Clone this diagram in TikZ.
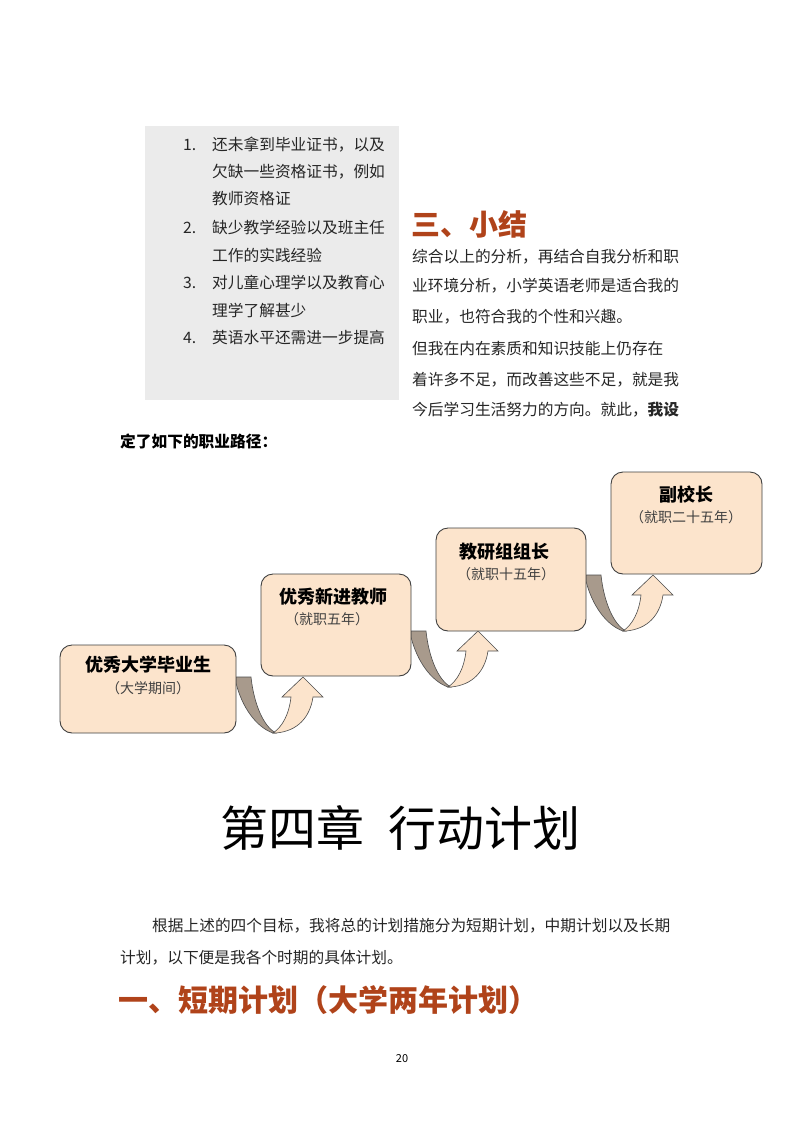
\documentclass[tikz,border=0pt]{standalone}
\usepackage{fontspec}
\setmainfont{Noto Sans CJK SC}
\definecolor{hd}{HTML}{B0431A}
\definecolor{boxf}{HTML}{FCE4CC}
\definecolor{band}{HTML}{A89A8C}
\definecolor{arr}{HTML}{FCE4CC}
\begin{document}
\begin{tikzpicture}[x=1pt,y=-1pt,
  txt/.style={anchor=west,inner sep=0pt,font=\fontsize{15.7}{17}\selectfont,text=black!85},
  stepbox/.style={draw=black!75,line width=0.9pt,fill=boxf,rounded corners=12pt,inner sep=0pt},
  ttl/.style={inner sep=0pt,font=\fontsize{18}{20}\selectfont\bfseries},
  sub/.style={inner sep=0pt,font=\fontsize{14}{16}\selectfont,text=black!75}]
\useasboundingbox (0,0) rectangle (800,1132);
\fill[white] (0,0) rectangle (800,1132);
% grey list box
\fill[black!8] (145,126) rectangle (399,400);
\foreach \n/\y in {1./145,2./228,3./283,4./338} \node[txt] at (183,\y) {\n};
\foreach \t/\y in {还未拿到毕业证书，以及/145,欠缺一些资格证书，例如/172,教师资格证/199,缺少教学经验以及班主任/228,工作的实践经验/255,对儿童心理学以及教育心/283,理学了解甚少/310,英语水平还需进一步提高/338}
  \node[txt] at (212,\y) {\t};
\node[anchor=west,inner sep=0pt,font=\fontsize{29}{32}\selectfont\bfseries,text=hd] (h3) at (411,224) {三、小结};
\foreach \t/\y in {综合以上的分析，再结合自我分析和职/257,业环境分析，小学英语老师是适合我的/286,职业，也符合我的个性和兴趣。/317,但我在内在素质和知识技能上仍存在/349,着许多不足，而改善这些不足，就是我/380}
  \node[txt] at (412,\y) {\t};
\node[txt] at (412,410) {今后学习生活努力的方向。就此，\textbf{我设}};
\node[txt,font=\fontsize{15.7}{17}\selectfont\bfseries,text=black] at (120,441) {定了如下的职业路径：};
% arrows
\newcommand\curarrow[2]{%
 \begin{scope}[shift={(#1,#2)}]
  \filldraw[fill=band,draw=black!70,line width=0.6pt] (0,0) -- (15,0) .. controls (18,28) and (28,50) .. (40,56) -- (37,56) .. controls (20,50) and (6,30) .. (0,6) -- cycle;
  \filldraw[fill=arr,draw=black!70,line width=0.6pt] (37,56) .. controls (46,50) and (53,38) .. (55,20) -- (46,20) -- (67,0) -- (87,20) -- (77,20) .. controls (74,40) and (62,54) .. (40,56) -- cycle;
 \end{scope}}
\curarrow{236}{677}
\curarrow{411}{631}
\curarrow{586}{575}
% boxes
\node[stepbox,minimum width=176pt,minimum height=88pt] (b1) at (148,689) {};
\node[stepbox,minimum width=150pt,minimum height=102pt] (b2) at (336,625) {};
\node[stepbox,minimum width=150pt,minimum height=103pt] (b3) at (511,579.5) {};
\node[stepbox,minimum width=151pt,minimum height=102pt] (b4) at (686.5,523) {};
\node[ttl] (t1) at (148,665) {优秀大学毕业生};
\node[sub] (s1) at (148,688) {（大学期间）};
\node[ttl] (t2) at (333,597) {优秀新进教师};
\node[sub] (s2) at (327,619) {（就职五年）};
\node[ttl] (t3) at (504,552) {教研组组长};
\node[sub] (s3) at (506,574) {（就职十五年）};
\node[ttl] (t4) at (686,495) {副校长};
\node[sub] (s4) at (686,517) {（就职二十五年）};
% chapter
\node[inner sep=0pt,font=\fontsize{48}{52}\selectfont] (ch) at (400,828) {第四章\hspace{0.5em}行动计划};
\node[txt] at (152,926) {根据上述的四个目标，我将总的计划措施分为短期计划，中期计划以及长期};
\node[txt] at (120,958) {计划，以下便是我各个时期的具体计划。};
\node[anchor=west,inner sep=0pt,font=\fontsize{30}{33}\selectfont\bfseries,text=hd] (h1) at (118,1000) {一、短期计划（大学两年计划）};
\node[inner sep=0pt,font=\fontsize{11}{12}\selectfont] (pg) at (402,1059) {20};
\end{tikzpicture}
\end{document}
